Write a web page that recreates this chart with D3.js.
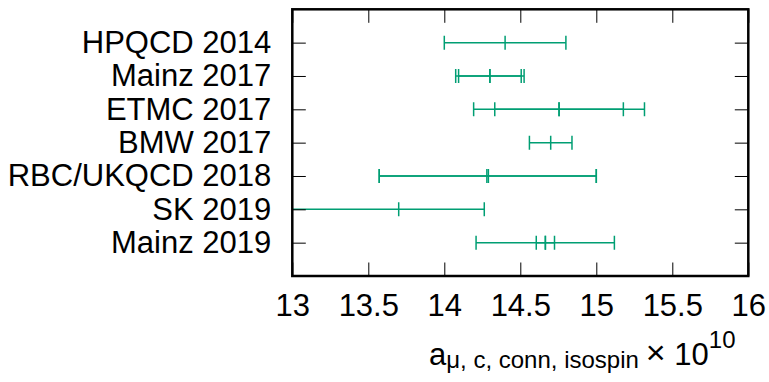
<!DOCTYPE html>
<html>
<head>
<meta charset="utf-8">
<script src="https://cdn.jsdelivr.net/npm/d3@7"></script>
<style>
  body { margin: 0; background: #fff; }
  svg { display: block; }
</style>
</head>
<body>
<div id="chart"></div>
<script>
const width = 769;
const height = 382;

const rowLabels = ['HPQCD 2014', 'Mainz 2017', 'ETMC 2017', 'BMW 2017', 'RBC/UKQCD 2018', 'SK 2019', 'Mainz 2019'];

// one entry per error bar (some rows carry two bars)
const barRows = ['HPQCD 2014', 'Mainz 2017', 'Mainz 2017', 'ETMC 2017', 'ETMC 2017', 'BMW 2017',
  'RBC/UKQCD 2018', 'RBC/UKQCD 2018', 'SK 2019', 'Mainz 2019', 'Mainz 2019'];
const barValues = [14.40, 14.30, 14.30, 14.755, 14.755, 14.70, 14.28, 14.29, 13.70, 14.665, 14.665];
const barErrLow = [0.40, 0.206, 0.225, 0.423, 0.562, 0.14, 0.708, 0.718, 0.90, 0.06, 0.456];
const barErrHigh = [0.40, 0.206, 0.225, 0.423, 0.562, 0.14, 0.72, 0.71, 0.563, 0.06, 0.454];

const xTicks = [13, 13.5, 14, 14.5, 15, 15.5, 16];

const lineColor = '#009e73';
const fontFamily = '"Liberation Sans", Arial, sans-serif';
const fontSize = 31;
const smallSize = 24;

const plotLeft = 292.3, plotRight = 748.3, plotTop = 9.3, plotBottom = 276;
const tickLen = 13.5;
const capHalf = 7;

const svg = d3.select('#chart').append('svg')
  .attr('width', width)
  .attr('height', height)
  .attr('font-family', fontFamily);

const x = d3.scaleLinear().domain([13, 16]).range([plotLeft, plotRight]);
const y = d3.scalePoint().domain(rowLabels).range([plotTop, plotBottom]).padding(1);

// clip for bars running off the plot
svg.append('clipPath').attr('id', 'plot-clip')
  .append('rect')
  .attr('x', plotLeft).attr('y', plotTop)
  .attr('width', plotRight - plotLeft).attr('height', plotBottom - plotTop);

const bars = svg.append('g').attr('clip-path', 'url(#plot-clip)');

barRows.forEach((row, i) => {
  const cy = y(row);
  const lo = x(barValues[i] - barErrLow[i]);
  const hi = x(barValues[i] + barErrHigh[i]);
  const cx = x(barValues[i]);
  const g = bars.append('g')
    .attr('stroke', lineColor)
    .attr('stroke-width', 1.5)
    .attr('fill', 'none');
  g.append('line').attr('x1', lo).attr('x2', hi).attr('y1', cy).attr('y2', cy);
  g.append('line').attr('x1', lo).attr('x2', lo).attr('y1', cy - capHalf).attr('y2', cy + capHalf);
  g.append('line').attr('x1', hi).attr('x2', hi).attr('y1', cy - capHalf).attr('y2', cy + capHalf);
  g.append('line').attr('x1', cx).attr('x2', cx).attr('y1', cy - capHalf).attr('y2', cy + capHalf);
});

// axes
const styleAxis = (g) => {
  g.select('.domain').remove();
  g.selectAll('.tick line').attr('stroke', '#000').attr('stroke-width', 1);
  g.selectAll('.tick text')
    .attr('fill', '#000')
    .attr('font-size', fontSize)
    .attr('font-family', fontFamily);
};

svg.append('g')
  .attr('transform', `translate(${plotLeft},0)`)
  .call(d3.axisLeft(y).tickSize(-tickLen).tickPadding(21))
  .call(styleAxis);

svg.append('g')
  .attr('transform', `translate(${plotRight},0)`)
  .call(d3.axisRight(y).tickSize(-tickLen).tickFormat(''))
  .call(styleAxis);

svg.append('g')
  .attr('transform', `translate(0,${plotBottom})`)
  .call(d3.axisBottom(x).tickValues(xTicks).tickSize(-tickLen).tickPadding(18).tickFormat(d3.format('')))
  .call(styleAxis);

svg.append('g')
  .attr('transform', `translate(0,${plotTop})`)
  .call(d3.axisTop(x).tickValues(xTicks).tickSize(-tickLen).tickFormat(''))
  .call(styleAxis);

// frame
svg.append('rect')
  .attr('x', plotLeft).attr('y', plotTop)
  .attr('width', plotRight - plotLeft).attr('height', plotBottom - plotTop)
  .attr('fill', 'none')
  .attr('stroke', '#000')
  .attr('stroke-width', 2.5);

// x label
const xl = svg.append('text')
  .attr('x', 429)
  .attr('y', 365)
  .attr('font-size', fontSize)
  .attr('fill', '#000');
xl.append('tspan').text('a');
xl.append('tspan').attr('font-size', smallSize).attr('dy', 3).text('μ, c, conn, isospin');
xl.append('tspan').attr('font-size', 34).attr('dx', 7).attr('dy', -4).text('×');
xl.append('tspan').attr('font-size', fontSize).attr('dy', 1).text(' 10');
xl.append('tspan').attr('font-size', smallSize).attr('dy', -17).text('10');
</script>
</body>
</html>
